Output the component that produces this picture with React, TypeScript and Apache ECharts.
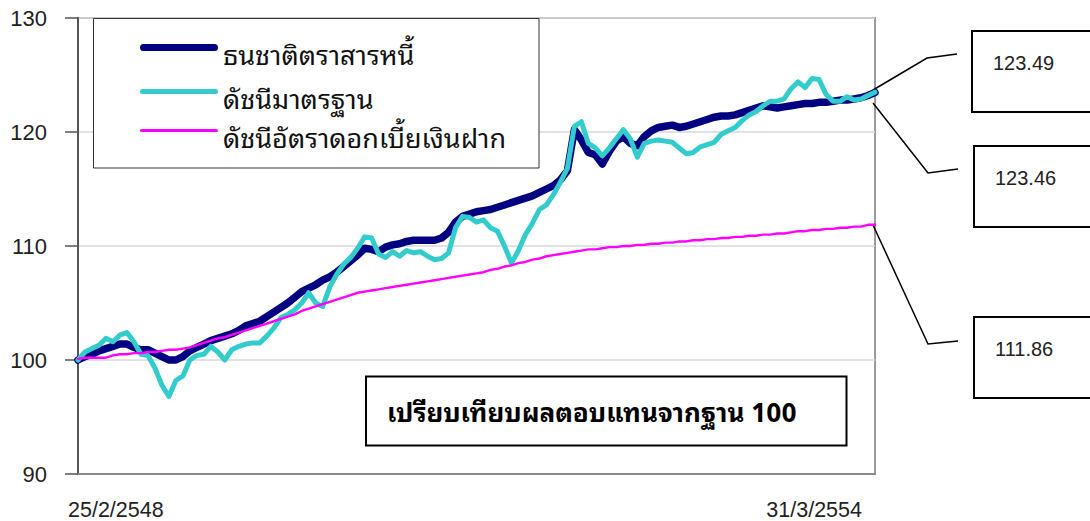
import React, { useEffect, useRef } from "react";
import * as echarts from "echarts";

const seriesNames = ["ธนชาติตราสารหนี้", "ดัชนีมาตรฐาน", "ดัชนีอัตราดอกเบี้ยเงินฝาก"];
const seriesColors = ["#000080", "#33CCCC", "#FF00FF"];
const xTickLabels = ["25/2/2548", "31/3/2554"];
const yTicks = { min: 90, max: 130, interval: 10 };
const boxTitle = "เปรียบเทียบผลตอบแทนจากฐาน 100";

const fundValues = [
  100.0, 100.3, 100.5, 100.8, 101.0, 101.2, 101.4, 101.4, 101.1, 100.9,
  100.9, 100.6, 100.3, 100.0, 100.0, 100.3, 100.8, 101.1, 101.4, 101.7,
  101.9, 102.1, 102.3, 102.6, 103.0, 103.2, 103.4, 103.8, 104.2, 104.6,
  105.0, 105.5, 106.0, 106.3, 106.6, 107.0, 107.3, 107.7, 108.2, 108.7,
  109.2, 109.8, 109.7, 109.5, 109.9, 110.1, 110.2, 110.4, 110.5, 110.5,
  110.5, 110.5, 110.7, 111.2, 112.1, 112.6, 112.8, 113.0, 113.1, 113.2,
  113.4, 113.6, 113.8, 114.0, 114.2, 114.4, 114.7, 115.0, 115.3, 115.8,
  116.6, 120.2, 119.3, 118.2, 118.0, 117.2, 118.3, 119.2, 119.6, 119.0,
  118.8, 119.6, 120.1, 120.4, 120.5, 120.6, 120.4, 120.5, 120.7, 120.9,
  121.1, 121.3, 121.4, 121.4, 121.5, 121.7, 121.9, 122.1, 122.3, 122.2,
  122.1, 122.2, 122.3, 122.4, 122.5, 122.5, 122.6, 122.6, 122.7, 122.8,
  122.8, 122.9, 123.0, 123.2, 123.46,
];

const benchmarkValues = [
  100.0, 100.7, 101.0, 101.3, 101.9, 101.6, 102.2, 102.4, 101.6, 100.5,
  100.4, 99.3, 97.8, 96.8, 98.2, 98.6, 100.0, 100.4, 100.5, 101.2,
  100.7, 100.0, 100.9, 101.2, 101.4, 101.5, 101.5, 102.1, 102.8, 103.7,
  104.0, 104.4, 105.0, 105.9, 105.0, 104.7, 106.4, 107.5, 108.4, 109.0,
  109.8, 110.8, 110.7, 109.3, 109.0, 109.5, 109.1, 109.6, 109.4, 109.5,
  109.1, 108.8, 108.9, 109.4, 111.6, 112.6, 112.5, 112.1, 112.3, 111.6,
  111.3, 110.0, 108.5, 109.6, 111.0, 112.0, 113.2, 113.6, 114.5, 115.6,
  116.8, 120.5, 120.9, 119.0, 118.6, 117.9, 118.6, 119.4, 120.2, 119.4,
  117.8, 119.0, 119.2, 119.3, 119.2, 119.1, 118.6, 118.1, 118.2, 118.7,
  118.9, 119.1, 119.8, 120.1, 120.4, 121.0, 121.5, 121.8, 122.3, 122.7,
  122.7, 122.9, 123.8, 124.4, 123.9, 124.7, 124.6, 123.3, 122.7, 122.7,
  123.1, 122.8, 122.9, 123.2, 123.49,
];

const depositValues = [
  100.1, 100.2, 100.2, 100.2, 100.2, 100.4, 100.5, 100.5, 100.6, 100.6,
  100.7, 100.7, 100.8, 100.9, 100.9, 101.0, 101.1, 101.3, 101.5, 101.7,
  101.9, 102.0, 102.2, 102.4, 102.6, 102.8, 103.0, 103.2, 103.4, 103.6,
  103.8, 104.0, 104.3, 104.5, 104.7, 104.9, 105.1, 105.3, 105.5, 105.7,
  105.9, 106.0, 106.1, 106.2, 106.3, 106.4, 106.5, 106.6, 106.7, 106.8,
  106.9, 107.0, 107.1, 107.2, 107.3, 107.4, 107.5, 107.6, 107.7, 107.9,
  108.0, 108.2, 108.3, 108.5, 108.6, 108.8, 108.9, 109.1, 109.2, 109.3,
  109.4, 109.5, 109.6, 109.7, 109.7, 109.8, 109.9, 109.9, 110.0, 110.0,
  110.1, 110.1, 110.2, 110.2, 110.3, 110.3, 110.4, 110.4, 110.5, 110.5,
  110.6, 110.6, 110.7, 110.7, 110.8, 110.8, 110.9, 110.9, 111.0, 111.0,
  111.1, 111.1, 111.2, 111.3, 111.3, 111.4, 111.4, 111.5, 111.5, 111.6,
  111.6, 111.7, 111.7, 111.86, 111.86,
];

const THAI = "'Noto Sans Thai Looped', 'Noto Sans Thai', 'Noto Sans', 'DejaVu Sans', sans-serif";
const LAT = "'Liberation Sans', Arial, sans-serif";

// legend icon: a rounded bar of thickness t placed at the top of a box of height h
const barIcon = (t: number, h: number) => {
  const r = t / 2;
  return (
    `path://M${r},0 H${78 - r} A${r},${r} 0 0 1 ${78 - r},${t} H${r} A${r},${r} 0 0 1 ${r},0 Z ` +
    `M0,${h - 0.02} h0.02 v0.02 h-0.02 Z`
  );
};

export default function App() {
  const ref = useRef<HTMLDivElement>(null);
  useEffect(() => {
    document.body.style.margin = "0";
    if (!ref.current) return;
    const chart = echarts.init(ref.current, undefined, { renderer: "svg" });
    const categories = fundValues.map((_, i) => String(i));
    const allSeries = [fundValues, benchmarkValues, depositValues];
    const widths = [7.5, 5, 2.4];
    const iconThick = [7, 5, 3];
    const iconBox = [17, 15, 13];
    const legendTops = [39, 83, 122];
    const last = (a: number[]) => a[a.length - 1];
    const calloutValues = [last(benchmarkValues), last(fundValues), last(depositValues)];
    const calloutBoxes = [
      { x: 972, y: 31 },
      { x: 974, y: 146 },
      { x: 974, y: 317 },
    ];
    const leaders = [
      [[873, 90], [927, 58], [957, 54]],
      [[873, 103], [928, 173], [958, 169]],
      [[873, 225], [928, 344], [958, 341]],
    ];

    const option: any = {
      animation: false,
      backgroundColor: "#ffffff",
      grid: {
        left: 78,
        top: 18,
        width: 797,
        height: 456,
        show: true,
        borderColor: "#9a9a9a",
        borderWidth: 2,
        backgroundColor: "transparent",
      },
      xAxis: {
        type: "category",
        data: categories,
        boundaryGap: false,
        axisLine: { lineStyle: { color: "#8a8a8a", width: 2 } },
        axisTick: { show: false },
        axisLabel: { show: false },
        splitLine: { show: false },
      },
      yAxis: {
        type: "value",
        min: yTicks.min,
        max: yTicks.max,
        interval: yTicks.interval,
        axisLine: { show: true, lineStyle: { color: "#555555", width: 2 } },
        axisTick: { show: true, length: 13, lineStyle: { color: "#555555", width: 1.5 } },
        axisLabel: {
          color: "#222222",
          fontSize: 22,
          fontFamily: LAT,
          margin: 31,
          padding: [6, 0, 0, 0],
        },
        splitLine: { show: true, lineStyle: { color: "#d9d9d9", width: 1.5 } },
      },
      legend: seriesNames.map((name, i) => ({
        data: [{ name, icon: barIcon(iconThick[i], iconBox[i]) }],
        left: 140,
        top: legendTops[i],
        orient: "vertical",
        padding: 0,
        itemWidth: 78,
        itemHeight: iconBox[i],
        itemGap: 0,
        selectedMode: false,
        z: 10,
        textStyle: { fontSize: 27, color: "#111111", fontFamily: THAI },
      })),
      series: seriesNames.map((name, i) => ({
        name,
        type: "line",
        data: allSeries[i],
        symbol: "none",
        color: seriesColors[i],
        lineStyle: { width: widths[i], color: seriesColors[i], join: "round", cap: "round" },
        z: 3 + i,
      })),
      graphic: [
        {
          type: "rect",
          z: 1,
          shape: { x: 93.5, y: 18.5, width: 445.5, height: 149.5 },
          style: { fill: "#ffffff", stroke: "#333333", lineWidth: 1 },
        },
        {
          type: "rect",
          z: 1,
          shape: { x: 366, y: 376.5, width: 480.5, height: 69 },
          style: { fill: "#ffffff", stroke: "#000000", lineWidth: 2 },
        },
        {
          type: "text",
          z: 2,
          x: 387,
          y: 410,
          style: {
            text: boxTitle,
            fill: "#000000",
            font: `bold 26px ${THAI}`,
            verticalAlign: "middle",
            align: "left",
          },
        },
        {
          type: "text",
          z: 2,
          x: 68,
          y: 510,
          style: { text: xTickLabels[0], fill: "#222222", font: `21.5px ${LAT}`, verticalAlign: "middle", align: "left" },
        },
        {
          type: "text",
          z: 2,
          x: 862,
          y: 510,
          style: { text: xTickLabels[1], fill: "#222222", font: `21.5px ${LAT}`, verticalAlign: "middle", align: "right" },
        },
        ...calloutBoxes.map((b) => ({
          type: "rect",
          z: 2,
          shape: { x: b.x, y: b.y, width: 140, height: 81 },
          style: { fill: "#ffffff", stroke: "#000000", lineWidth: 2 },
        })),
        ...calloutBoxes.map((b, i) => ({
          type: "text",
          z: 3,
          x: b.x + 21,
          y: b.y + 32,
          style: {
            text: calloutValues[i].toFixed(2),
            fill: "#222222",
            font: `20px ${LAT}`,
            verticalAlign: "middle",
            align: "left",
          },
        })),
        ...leaders.map((pts) => ({
          type: "polyline",
          z: 2,
          shape: { points: pts },
          style: { stroke: "#000000", lineWidth: 1.5, fill: "none" },
        })),
      ],
    };
    chart.setOption(option);
    return () => chart.dispose();
  }, []);
  return <div ref={ref} style={{ width: 1090, height: 521 }} />;
}
